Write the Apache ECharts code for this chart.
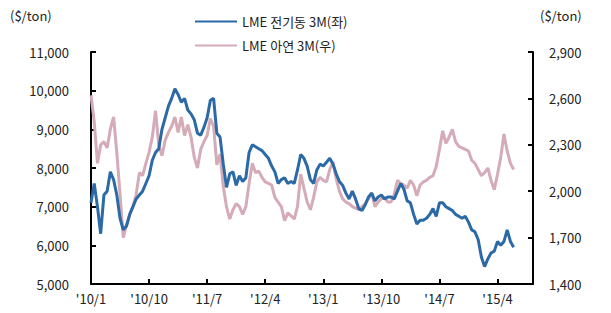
<!DOCTYPE html>
<html><head><meta charset="utf-8">
<script src="https://cdn.jsdelivr.net/npm/echarts@6/dist/echarts.min.js"></script>
<style>html,body{margin:0;padding:0;background:#fff}#c{width:611px;height:313px}</style>
</head><body><div id="c"></div>
<script>
// Semi-monthly observations from 2010/1 (two per month)
var tickLabels = ["'10/1", "'10/10", "'11/7", "'12/4", "'13/1", "'13/10", "'14/7", "'15/4"];
var copper = [7100,7600,7000,6300,7300,7400,7900,7700,7300,6700,6400,6500,6800,7000,7200,7300,7400,7600,7800,8200,
  8400,8500,9000,9300,9600,9800,10050,9900,9700,9800,9500,9400,9250,8900,8850,9050,9300,9750,9800,8900,
  8800,8100,7500,7850,7900,7550,7800,7650,7750,8400,8600,8550,8500,8450,8350,8250,8050,7900,7600,7700,
  7750,7600,7650,7600,7950,8350,8250,8050,7700,7600,7950,8100,8050,8150,8250,8100,7850,7650,7550,7350,
  7200,7400,7200,6950,6900,7050,7250,7350,7150,7250,7300,7200,7250,7250,7200,7400,7600,7450,7150,7100,
  6800,6550,6650,6650,6700,6800,6950,6750,7100,7100,7000,6950,6900,6800,6750,6700,6750,6600,6400,6350,
  6150,5700,5450,5650,5800,5850,6100,6000,6100,6400,6100,5950];
var zinc = [2620,2450,2180,2300,2320,2280,2400,2480,2250,1980,1700,1780,1850,1900,1980,2120,2100,2180,2250,2350,
  2520,2300,2230,2330,2380,2420,2480,2380,2480,2360,2430,2350,2220,2150,2270,2320,2360,2470,2420,2170,
  2240,2030,1900,1820,1880,1920,1900,1850,1900,2050,2180,2120,2130,2090,2060,2050,2040,1960,1930,1900,
  1810,1860,1840,1820,1900,2110,2020,1930,1880,1960,2060,2090,2070,2060,2140,2190,2080,2000,1950,1930,
  1920,1900,1890,1880,1900,1920,1950,1990,1900,1930,1950,1960,1930,1930,1980,2070,2050,2040,2020,2070,
  2040,1970,2040,2060,2070,2090,2100,2160,2270,2390,2310,2350,2400,2320,2290,2280,2270,2260,2200,2180,
  2140,2100,2120,2150,2070,2010,2110,2220,2370,2260,2180,2140];
var seriesNames = ["LME 전기동 3M(좌)", "LME 아연 3M(우)"];
var unitLabel = "($/ton)";

var categories = [];
for (var y = 2010; y <= 2015; y++) {
  for (var m = 1; m <= 12; m++) {
    categories.push(y + "/" + m + "a");
    categories.push(y + "/" + m + "b");
    if (categories.length >= 137) break;
  }
  if (categories.length >= 137) break;
}

var FONT = "'Noto Sans CJK KR', 'Noto Sans', sans-serif";
var chart = echarts.init(document.getElementById('c'), null, {renderer: 'svg'});
function fmt(v){ return String(v).replace(/\B(?=(\d{3})+(?!\d))/g, ','); }
function axisLineStyle(){ return {show: true, onZero: false, lineStyle: {color: '#000000', width: 2, type: 'solid'}}; }
function tickStyle(){ return {show: true, inside: true, length: 5, lineStyle: {color: '#000000', width: 2, type: 'solid'}}; }
chart.setOption({
  animation: false,
  textStyle: {fontFamily: FONT},
  grid: {left: 91, right: 78, top: 52, bottom: 29, containLabel: false},
  legend: {
    orient: 'vertical', left: 190, top: 10, itemWidth: 42, itemHeight: 2, itemGap: 11,
    icon: 'rect',
    textStyle: {fontSize: 13, color: '#222', fontFamily: FONT},
    data: seriesNames
  },
  graphic: [
    {type: 'text', left: 10, top: 9, style: {text: unitLabel, fontSize: 13, fill: '#222', fontFamily: FONT}},
    {type: 'text', left: 540, top: 9, style: {text: unitLabel, fontSize: 13, fill: '#222', fontFamily: FONT}}
  ],
  xAxis: {
    type: 'category', data: categories, boundaryGap: false,
    axisLine: axisLineStyle(),
    axisTick: Object.assign(tickStyle(), {interval: function(i){ return i % 18 === 0; }}),
    axisLabel: {interval: function(i){ return i % 18 === 0; }, fontSize: 13, color: '#222', margin: 8,
      formatter: function(v, i){ return tickLabels[i / 18] || ''; }},
    splitLine: {show: false}
  },
  yAxis: [
    {type: 'value', min: 5000, max: 11000, interval: 1000, position: 'left',
     axisLine: axisLineStyle(), axisTick: tickStyle(),
     axisLabel: {fontSize: 13, color: '#222', margin: 22, formatter: fmt},
     splitLine: {show: false}},
    {type: 'value', min: 1400, max: 2900, interval: 300, position: 'right',
     axisLine: axisLineStyle(), axisTick: tickStyle(),
     axisLabel: {fontSize: 13, color: '#222', margin: 16, formatter: fmt},
     splitLine: {show: false}}
  ],
  series: [
    {name: seriesNames[1], type: 'line', yAxisIndex: 1, data: zinc, symbol: 'none',
     lineStyle: {color: '#d4abb7', width: 3}, itemStyle: {color: '#d4abb7'}, z: 2},
    {name: seriesNames[0], type: 'line', yAxisIndex: 0, data: copper, symbol: 'none',
     lineStyle: {color: '#2b6aa6', width: 3}, itemStyle: {color: '#2b6aa6'}, z: 3}
  ]
});
</script></body></html>
